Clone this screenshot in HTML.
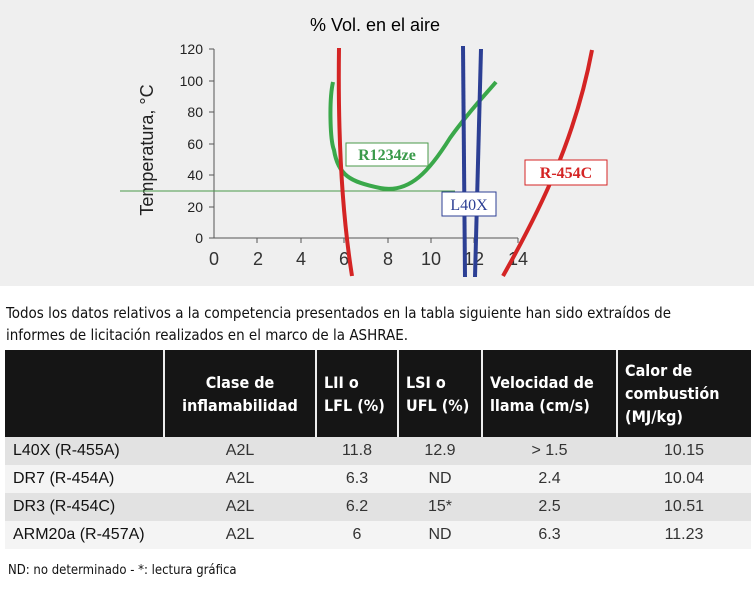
<!DOCTYPE html>
<html><head><meta charset="utf-8"><style>
body{margin:0;width:754px;height:594px;background:#fff;font-family:"Liberation Sans",sans-serif;position:relative;overflow:hidden}
.p{position:absolute;left:6px;top:302px;line-height:22px;color:#111;font-family:"DejaVu Sans Condensed","DejaVu Sans",sans-serif;font-size:15px}
table{position:absolute;left:5px;top:350px;width:746px;border-collapse:collapse}
th{background:#151515;color:#fff;font-family:"DejaVu Sans Condensed","DejaVu Sans",sans-serif;font-weight:bold;font-size:16px;text-align:left;height:87px;padding:0 7px;border-left:2px solid #eee;line-height:23px}
th:first-child{border-left:none}
td{height:28px;font-size:16px;color:#333;text-align:center;padding:0}
td:first-child{text-align:left;padding-left:8px;color:#111}
tr.a td{background:#e2e2e2}tr.b td{background:#f4f4f4}
.f{position:absolute;left:8px;top:563px;font-size:13px;font-family:"DejaVu Sans Condensed","DejaVu Sans",sans-serif;color:#111}
</style></head><body>
<svg width="754" height="290" style="position:absolute;left:0;top:0">
<rect x="0" y="0" width="754" height="286" fill="#efefef"/>
<text x="375" y="31" font-size="18" text-anchor="middle" font-family="Liberation Sans">% Vol. en el aire</text>
<text transform="translate(153,150) rotate(-90)" font-size="18" text-anchor="middle" font-family="Liberation Sans" fill="#222">Temperatura, °C</text>
<g font-size="14" text-anchor="end" fill="#222">
<text x="203" y="54">120</text><text x="203" y="86">100</text><text x="203" y="117">80</text><text x="203" y="149">60</text><text x="203" y="180">40</text><text x="203" y="212">20</text><text x="203" y="243">0</text></g>
<g stroke="#555" stroke-width="1"><line x1="214" y1="49" x2="214" y2="238"/><line x1="209" y1="238" x2="518" y2="238"/>
<line x1="209" y1="49" x2="214" y2="49"/><line x1="209" y1="81" x2="214" y2="81"/><line x1="209" y1="112" x2="214" y2="112"/><line x1="209" y1="144" x2="214" y2="144"/><line x1="209" y1="175" x2="214" y2="175"/><line x1="209" y1="207" x2="214" y2="207"/>
<line x1="257" y1="238" x2="257" y2="243"/><line x1="301" y1="238" x2="301" y2="243"/><line x1="344" y1="238" x2="344" y2="243"/><line x1="388" y1="238" x2="388" y2="243"/><line x1="431" y1="238" x2="431" y2="243"/><line x1="474" y1="238" x2="474" y2="243"/><line x1="518" y1="238" x2="518" y2="243"/></g>
<g font-size="18" text-anchor="middle" fill="#333">
<text x="214" y="265">0</text><text x="258" y="265">2</text><text x="301" y="265">4</text><text x="344" y="265">6</text><text x="388" y="265">8</text><text x="431" y="265">10</text><text x="474" y="265">12</text><text x="518" y="265">14</text></g>
<line x1="120" y1="191" x2="455" y2="191" stroke="#4a9a4a" stroke-width="1"/>
<path d="M333,82 C329,100 330,140 334,150 C338,175 350,182 380,188 C410,194 430,170 450,138 C470,110 485,95 496,82" fill="none" stroke="#3aa84a" stroke-width="4"/>
<path d="M339,48 C338,120 340,200 352,276" fill="none" stroke="#d42424" stroke-width="4"/>
<path d="M503,276 C540,210 575,140 592,50" fill="none" stroke="#d42424" stroke-width="4"/>
<line x1="463" y1="46" x2="465" y2="277" stroke="#2c3f94" stroke-width="4"/>
<line x1="481" y1="49" x2="475" y2="277" stroke="#2c3f94" stroke-width="4"/>
<rect x="346" y="143" width="82" height="23" fill="#fff" stroke="#4a9a4a"/>
<text x="387" y="160" font-family="Liberation Serif" font-size="16" fill="#3a9a4a" text-anchor="middle" font-weight="bold">R1234ze</text>
<rect x="442" y="192" width="54" height="24" fill="#fff" stroke="#2c3f94"/>
<text x="469" y="210" font-family="Liberation Serif" font-size="16" fill="#2c3f94" text-anchor="middle">L40X</text>
<rect x="525" y="160" width="82" height="25" fill="#fff" stroke="#d42424"/>
<text x="566" y="178" font-family="Liberation Serif" font-size="16" fill="#d42424" text-anchor="middle" font-weight="bold">R-454C</text>
</svg>
<div class="p">Todos los datos relativos a la competencia presentados en la tabla siguiente han sido extraídos de<br>informes de licitación realizados en el marco de la ASHRAE.</div>
<table>
<tr><th style="width:144px"></th><th style="width:136px;text-align:center">Clase de<br>inflamabilidad</th><th style="width:66px">LII o<br>LFL (%)</th><th style="width:68px">LSI o<br>UFL (%)</th><th style="width:119px">Velocidad de<br>llama (cm/s)</th><th>Calor de<br>combustión<br>(MJ/kg)</th></tr>
<tr class="a"><td>L40X (R-455A)</td><td>A2L</td><td>11.8</td><td>12.9</td><td>&gt; 1.5</td><td>10.15</td></tr>
<tr class="b"><td>DR7 (R-454A)</td><td>A2L</td><td>6.3</td><td>ND</td><td>2.4</td><td>10.04</td></tr>
<tr class="a"><td>DR3 (R-454C)</td><td>A2L</td><td>6.2</td><td>15*</td><td>2.5</td><td>10.51</td></tr>
<tr class="b"><td>ARM20a (R-457A)</td><td>A2L</td><td>6</td><td>ND</td><td>6.3</td><td>11.23</td></tr>
</table>
<div class="f">ND: no determinado - *: lectura gráfica</div>
</body></html>
